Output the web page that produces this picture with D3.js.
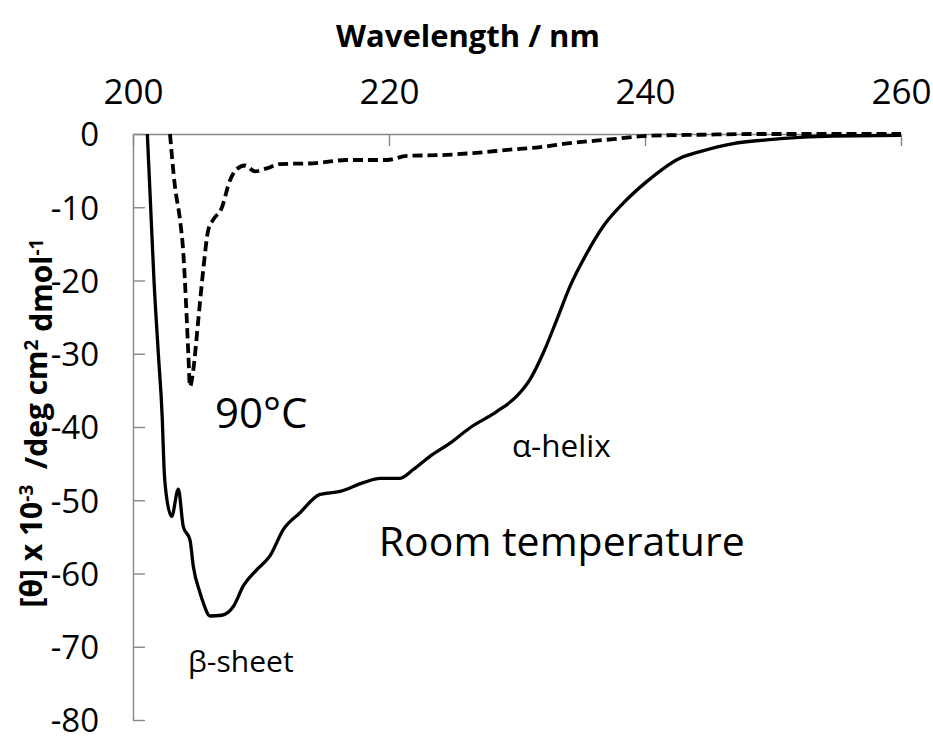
<!DOCTYPE html>
<html>
<head>
<meta charset="utf-8">
<script src="https://cdn.jsdelivr.net/npm/d3@7"></script>
<style>
  html, body { margin: 0; padding: 0; background: #fff; }
  svg { display: block; }
  text { white-space: pre; }
</style>
</head>
<body>
<div id="chart"></div>
<script>
// CD spectrum, room temperature (solid)
const roomTempWl = [201.12, 201.38, 201.64, 201.98, 202.29, 202.42, 202.58, 203.02, 203.54, 203.93,
  204.45, 204.71, 205.23, 205.49, 206.02, 206.93, 207.84, 208.62, 209.66, 210.70, 211.74, 213.05,
  214.61, 216.17, 217.99, 219.30, 220.86, 221.90, 223.20, 224.77, 226.33, 228.41, 229.98, 231.02,
  232.05, 233.10, 234.14, 235.45, 236.74, 238.30, 240.13, 242.73, 244.30, 246.90, 249.50, 252.10,
  254.70, 260.00];
const roomTempTheta = [0, -10, -20, -30, -39, -45.4, -49, -52.2, -48.5, -53.6,
  -55.4, -59, -62.6, -64, -65.8, -65.7, -64.5, -61.7, -59.5, -57.6, -54, -51.7,
  -49.2, -48.8, -47.6, -47, -47, -45.8, -44, -42.2, -40.1, -37.9, -35.8, -33.5,
  -29.9, -25.4, -20.8, -16.3, -12.6, -9.45, -6.5, -3.3, -2.4, -1.3, -0.8, -0.45,
  -0.27, -0.2];

// CD spectrum, 90 °C (dashed)
const hotWl = [202.89, 203.28, 203.67, 203.93, 204.14, 204.32, 204.45, 204.71, 205.10, 205.49,
  205.88, 206.27, 206.93, 207.58, 208.10, 208.75, 209.53, 210.45, 211.48, 214.09, 216.70,
  219.82, 221.38, 224.51, 226.59, 229.71, 231.80, 233.62, 237.52, 240.13, 244.30, 249.00, 260.00];
const hotTheta = [0, -7.2, -11.7, -16.2, -23, -29.9, -34.5, -32.2, -25.4, -18.5,
  -13.1, -11.7, -10.1, -6.3, -4.8, -4.3, -5.1, -4.7, -4.1, -4.0, -3.55,
  -3.55, -3.0, -2.85, -2.6, -2.1, -1.8, -1.35, -0.7, -0.25, -0.1, 0, 0];

const xTicks = [200, 220, 240, 260];
const yTicks = [0, -10, -20, -30, -40, -50, -60, -70, -80];

// Text labels placed in data coordinates
const labelText = ["90°C", "β-sheet", "α-helix", "Room temperature"];
const labelWl = [206.4, 204.3, 229.6, 219.2];
const labelTheta = [-40.2, -73.5, -44.1, -57.6];
const labelSize = [42, 30, 31.5, 41];

const W = 933, H = 736;
const FONT = "'Open Sans', 'Liberation Sans', sans-serif";
const AXIS_GREY = "#868686";

// plain hyphen-minus for negative tick values
const fmt = d => String(d);

const svg = d3.select("#chart").append("svg")
  .attr("width", W).attr("height", H);

const x = d3.scaleLinear().domain([200, 260]).range([133, 901]);
const y = d3.scaleLinear().domain([0, -80]).range([134, 720]);

// Horizontal axis along the top (theta = 0), ticks pointing into the plot
const xAxis = svg.append("g")
  .attr("transform", `translate(0,${y(0)})`)
  .call(d3.axisTop(x).tickValues(xTicks).tickFormat(fmt)
    .tickSizeInner(-12).tickSizeOuter(0).tickPadding(30));

// Vertical axis on the left, ticks pointing into the plot
const yAxis = svg.append("g")
  .attr("transform", `translate(${x(200)},0)`)
  .call(d3.axisLeft(y).tickValues(yTicks).tickFormat(fmt)
    .tickSizeInner(-12).tickSizeOuter(0).tickPadding(34));

[xAxis, yAxis].forEach(g => {
  g.selectAll("path.domain").attr("stroke", AXIS_GREY).attr("stroke-width", 1.4);
  g.selectAll(".tick line").attr("stroke", AXIS_GREY).attr("stroke-width", 1.4);
  g.selectAll(".tick text")
    .attr("fill", "#000")
    .style("font-family", FONT);
});
xAxis.selectAll(".tick text").style("font-size", "35px");
yAxis.selectAll(".tick text").style("font-size", "33px").attr("dy", "0.36em");

// Spectra
const line = d3.line()
  .x(d => x(d[0]))
  .y(d => y(d[1]))
  .curve(d3.curveMonotoneX);

const roomTemp = roomTempWl.map((w, i) => [w, roomTempTheta[i]]);
const hot = hotWl.map((w, i) => [w, hotTheta[i]]);

svg.append("path")
  .datum(hot)
  .attr("d", line)
  .attr("fill", "none")
  .attr("stroke", "#000")
  .attr("stroke-width", 3.8)
  .attr("stroke-dasharray", "10,5");

svg.append("path")
  .datum(roomTemp)
  .attr("d", line)
  .attr("fill", "none")
  .attr("stroke", "#000")
  .attr("stroke-width", 3.3)
  .attr("stroke-linejoin", "round");

// Axis titles
svg.append("text")
  .attr("x", 468).attr("y", 47)
  .attr("text-anchor", "middle")
  .style("font-family", FONT)
  .style("font-weight", "bold")
  .style("font-size", "31px")
  .text("Wavelength / nm");

const yTitle = svg.append("text")
  .attr("transform", "translate(42,423) rotate(-90)")
  .attr("text-anchor", "middle")
  .style("font-family", FONT)
  .style("font-weight", "bold")
  .style("font-size", "30px");
yTitle.append("tspan").text("[θ] x 10");
yTitle.append("tspan").attr("dy", "-0.45em").style("font-size", "19px").text("-3");
yTitle.append("tspan").attr("dy", "0.45em").text("  /deg cm");
yTitle.append("tspan").attr("dy", "-0.45em").style("font-size", "19px").text("2");
yTitle.append("tspan").attr("dy", "0.45em").text(" dmol");
yTitle.append("tspan").attr("dy", "-0.45em").style("font-size", "19px").text("-1");

// Annotations
svg.selectAll("text.note")
  .data(labelText)
  .enter().append("text")
  .attr("class", "note")
  .attr("x", (d, i) => x(labelWl[i]))
  .attr("y", (d, i) => y(labelTheta[i]))
  .style("font-family", FONT)
  .style("font-size", (d, i) => labelSize[i] + "px")
  .attr("fill", "#000")
  .text(d => d);
</script>
</body>
</html>
